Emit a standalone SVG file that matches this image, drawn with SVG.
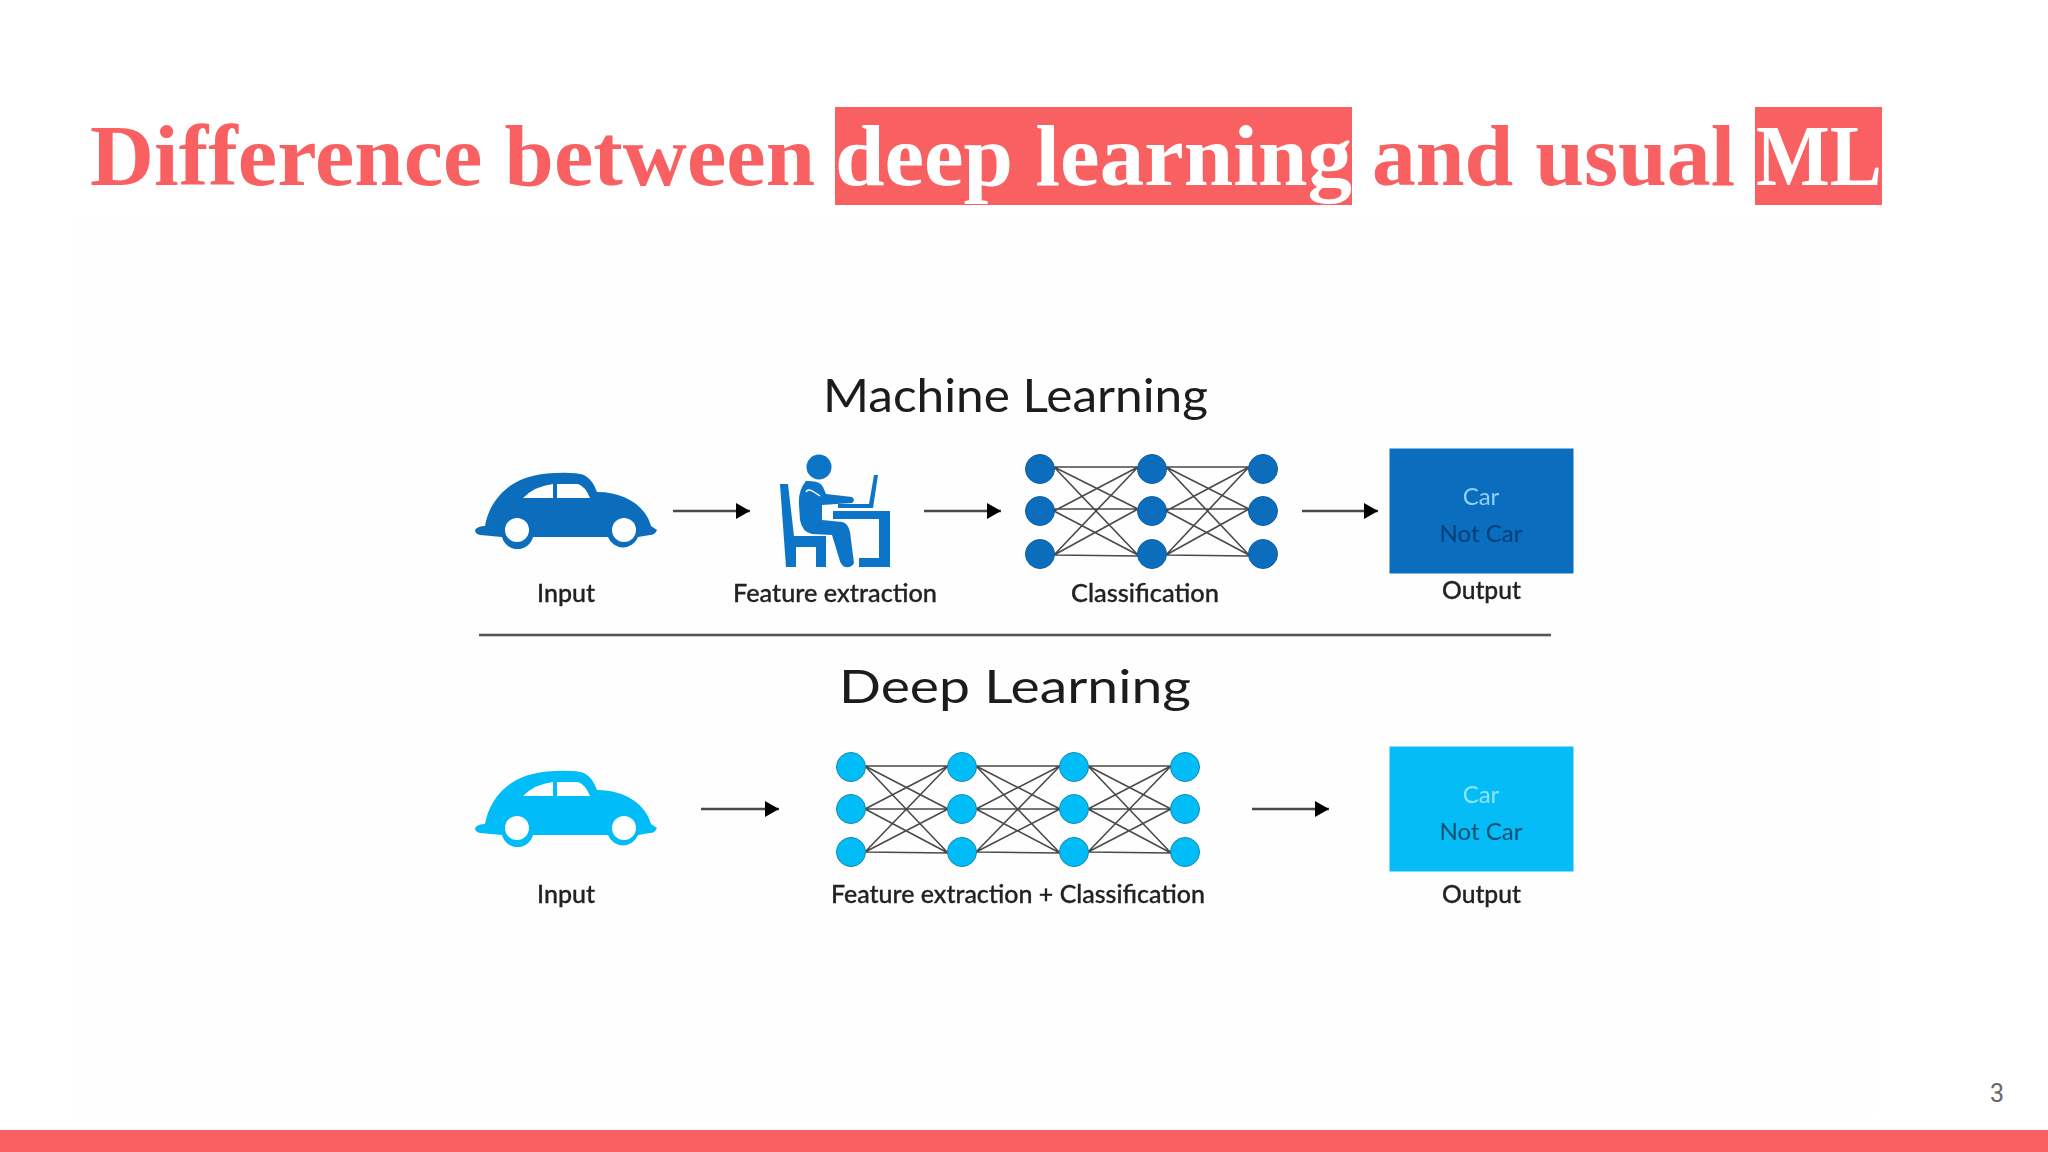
<svg xmlns="http://www.w3.org/2000/svg" width="2048" height="1152" viewBox="0 0 2048 1152">
<style>
.title{font-family:"Liberation Serif",serif;font-weight:700;font-size:86px;fill:#f96062}
.hl{fill:#f96062}
.h{font-family:Lato,"Liberation Sans",sans-serif;font-size:46px;fill:#1c1c1c;filter:url(#soft)}
.l{font-family:Lato,"Liberation Sans",sans-serif;font-size:24px;font-weight:500;fill:#222;stroke:#222;stroke-width:.3;filter:url(#soft)}
.o{font-family:Lato,"Liberation Sans",sans-serif;font-size:24px;text-anchor:middle;filter:url(#soft)}
.e{stroke:#4a4a4a;stroke-width:1.6;fill:none;filter:url(#soft)}
.a{stroke:#4a4a4a;stroke-width:2.6;fill:none;marker-end:url(#ah)}
.d{fill:#0a6dbd;stroke:#0a5ea6;stroke-width:1;filter:url(#soft)}
.c{fill:#05bcf7;stroke:#1187aa;stroke-width:1;filter:url(#soft)}
.i{filter:url(#soft)}
</style>
<defs>
<filter id="soft" x="-20%" y="-20%" width="140%" height="140%"><feGaussianBlur stdDeviation="0.55"/></filter>
<marker id="ah" markerUnits="userSpaceOnUse" markerWidth="15" markerHeight="18" refX="14" refY="9" orient="auto"><path d="M0,1 L14,9 L0,17Z" fill="#000"/></marker>
<g id="car">
<path fill="currentColor" d="M475,530 Q478,526 485,526 C489,503 507,474 555,473 Q575,472 584,475 Q593,480 597,492 C626,492 646,507 651,526 L657,530 Q655,535 650,535 L638,537 A16,16 0 0 1 608,537 L533,537 A16,16 0 0 1 502,537 L480,535 Q475,534 475,530Z"/>
<circle cx="517" cy="530" r="12" fill="#fff"/><circle cx="624" cy="530" r="12" fill="#fff"/>
<path fill="#fff" d="M523,498 Q535,486 553,484 V498Z M557,484 H578 Q585,486 590,498 H557Z"/>
</g>
</defs>
<rect width="2048" height="1152" fill="#fff"/>
<rect x="75" y="215" width="1800" height="900" fill="#fefefe"/>
<g id="title">
<rect class="hl" x="835" y="107" width="517" height="98"/>
<rect class="hl" x="1755" y="107" width="127" height="98"/>
<text class="title" x="90" y="185" textLength="725" lengthAdjust="spacingAndGlyphs">Difference between</text>
<text class="title" style="fill:#fff" x="835" y="185" textLength="517" lengthAdjust="spacingAndGlyphs">deep learning</text>
<text class="title" x="1372" y="185" textLength="363" lengthAdjust="spacingAndGlyphs">and usual</text>
<text class="title" style="fill:#fff" x="1756" y="185" textLength="126" lengthAdjust="spacingAndGlyphs">ML</text>
</g>
<g id="connectors">
<path class="a" d="M673,511 H750"/><path class="a" d="M924,511 H1001"/><path class="a" d="M1302,511 H1378"/>
<path class="a" d="M701,809 H779"/><path class="a" d="M1252,809 H1329"/>
<path class="e" d="M1054,467 L1138,467 M1054,467 L1138,509 M1054,467 L1138,555 M1054,511 L1138,467 M1054,509 L1138,509 M1054,511 L1138,555 M1054,555 L1138,467 M1054,555 L1138,509 M1054,555 L1138,556"/>
<path class="e" d="M1166,467 L1249,467 M1166,467 L1249,509 M1166,467 L1249,555 M1166,511 L1249,467 M1166,509 L1249,509 M1166,511 L1249,555 M1166,555 L1249,467 M1166,555 L1249,509 M1166,555 L1249,556"/>
<path class="e" d="M865,766 L948,766 M865,766 L948,809 M865,766 L948,853 M865,809 L948,766 M865,809 L948,809 M865,809 L948,853 M865,852 L948,766 M865,852 L948,809 M865,852 L948,853"/>
<path class="e" d="M976,766 L1060,766 M976,766 L1060,809 M976,766 L1060,853 M976,809 L1060,766 M976,809 L1060,809 M976,809 L1060,853 M976,852 L1060,766 M976,852 L1060,809 M976,852 L1060,853"/>
<path class="e" d="M1088,766 L1171,766 M1088,766 L1171,809 M1088,766 L1171,853 M1088,809 L1171,766 M1088,809 L1171,809 M1088,809 L1171,853 M1088,852 L1171,766 M1088,852 L1171,809 M1088,852 L1171,853"/>
</g>
<text id="ml-heading" class="h" x="823" y="412" textLength="385" lengthAdjust="spacingAndGlyphs">Machine Learning</text>
<g id="ml-input">
<use class="i" href="#car" style="color:#0a6dbd"/>
<text class="l" x="537" y="602" textLength="58" lengthAdjust="spacingAndGlyphs">Input</text>
</g>
<g id="ml-feature-extraction">
<g class="i" fill="#0f75c8">
<circle cx="819" cy="467" r="12.5"/>
<path d="M780,484 H788 L794,536 H826 V567 H816 V547 H796 V567 H786Z"/>
<path d="M806,481 Q820,480 823,487 L826,494 L852,497 Q856,500 852,503 L822,505 L822,520 L842,522 Q848,523 850,532 L854,563 Q852,568 845,567 Q841,566 839,558 L832,535 L812,534 Q802,532 800,520 L799,505 Q798,490 806,481Z"/>
<path d="M874,475 H878 L873,508 H838 V504 H869Z"/>
<path d="M833,511 H890 V567 H859 V558 H879 V519 H833Z"/>
<path d="M806,492 Q808,488 814,492 L820,496" fill="none" stroke="#fff" stroke-width="1.5"/>
</g>
<text class="l" x="733" y="602" textLength="204" lengthAdjust="spacingAndGlyphs">Feature extraction</text>
</g>
<g id="ml-classification">
<circle class="d" cx="1040" cy="469" r="14.5"/><circle class="d" cx="1040" cy="511" r="14.5"/><circle class="d" cx="1040" cy="554" r="14.5"/>
<circle class="d" cx="1152" cy="469" r="14.5"/><circle class="d" cx="1152" cy="511" r="14.5"/><circle class="d" cx="1152" cy="554" r="14.5"/>
<circle class="d" cx="1263" cy="469" r="14.5"/><circle class="d" cx="1263" cy="511" r="14.5"/><circle class="d" cx="1263" cy="554" r="14.5"/>
<text class="l" x="1071" y="602" textLength="148" lengthAdjust="spacingAndGlyphs">Classification</text>
</g>
<g id="ml-output">
<rect x="1389.5" y="448.5" width="184" height="125" fill="#0a6dbd"/>
<text class="o" x="1481" y="505" fill="#8fd0f5">Car</text>
<text class="o" x="1481" y="542" fill="#063f78">Not Car</text>
<text class="l" x="1442" y="599" textLength="79" lengthAdjust="spacingAndGlyphs">Output</text>
</g>
<rect id="divider" x="479" y="633.7" width="1072" height="2.6" fill="#555"/>
<text id="dl-heading" class="h" x="839" y="703" textLength="352" lengthAdjust="spacingAndGlyphs">Deep Learning</text>
<g id="dl-input">
<use class="i" href="#car" x="0" y="298" style="color:#05bcf7"/>
<text class="l" x="537" y="903" textLength="58" lengthAdjust="spacingAndGlyphs">Input</text>
</g>
<g id="dl-network">
<circle class="c" cx="851" cy="767" r="14.5"/><circle class="c" cx="851" cy="809" r="14.5"/><circle class="c" cx="851" cy="852" r="14.5"/>
<circle class="c" cx="962" cy="767" r="14.5"/><circle class="c" cx="962" cy="809" r="14.5"/><circle class="c" cx="962" cy="852" r="14.5"/>
<circle class="c" cx="1074" cy="767" r="14.5"/><circle class="c" cx="1074" cy="809" r="14.5"/><circle class="c" cx="1074" cy="852" r="14.5"/>
<circle class="c" cx="1185" cy="767" r="14.5"/><circle class="c" cx="1185" cy="809" r="14.5"/><circle class="c" cx="1185" cy="852" r="14.5"/>
<text class="l" x="831" y="903" textLength="374" lengthAdjust="spacingAndGlyphs">Feature extraction + Classification</text>
</g>
<g id="dl-output">
<rect x="1389.5" y="746.5" width="184" height="125" fill="#05bcf7"/>
<text class="o" x="1481" y="803" fill="#8fe3fb">Car</text>
<text class="o" x="1481" y="840" fill="#0a4f70">Not Car</text>
<text class="l" x="1442" y="903" textLength="79" lengthAdjust="spacingAndGlyphs">Output</text>
</g>
<rect id="footer-bar" y="1130" width="2048" height="22" fill="#f96062"/>
<text id="page-number" x="1990" y="1102" font-family="Roboto,sans-serif" font-size="25" fill="#666">3</text>
</svg>
